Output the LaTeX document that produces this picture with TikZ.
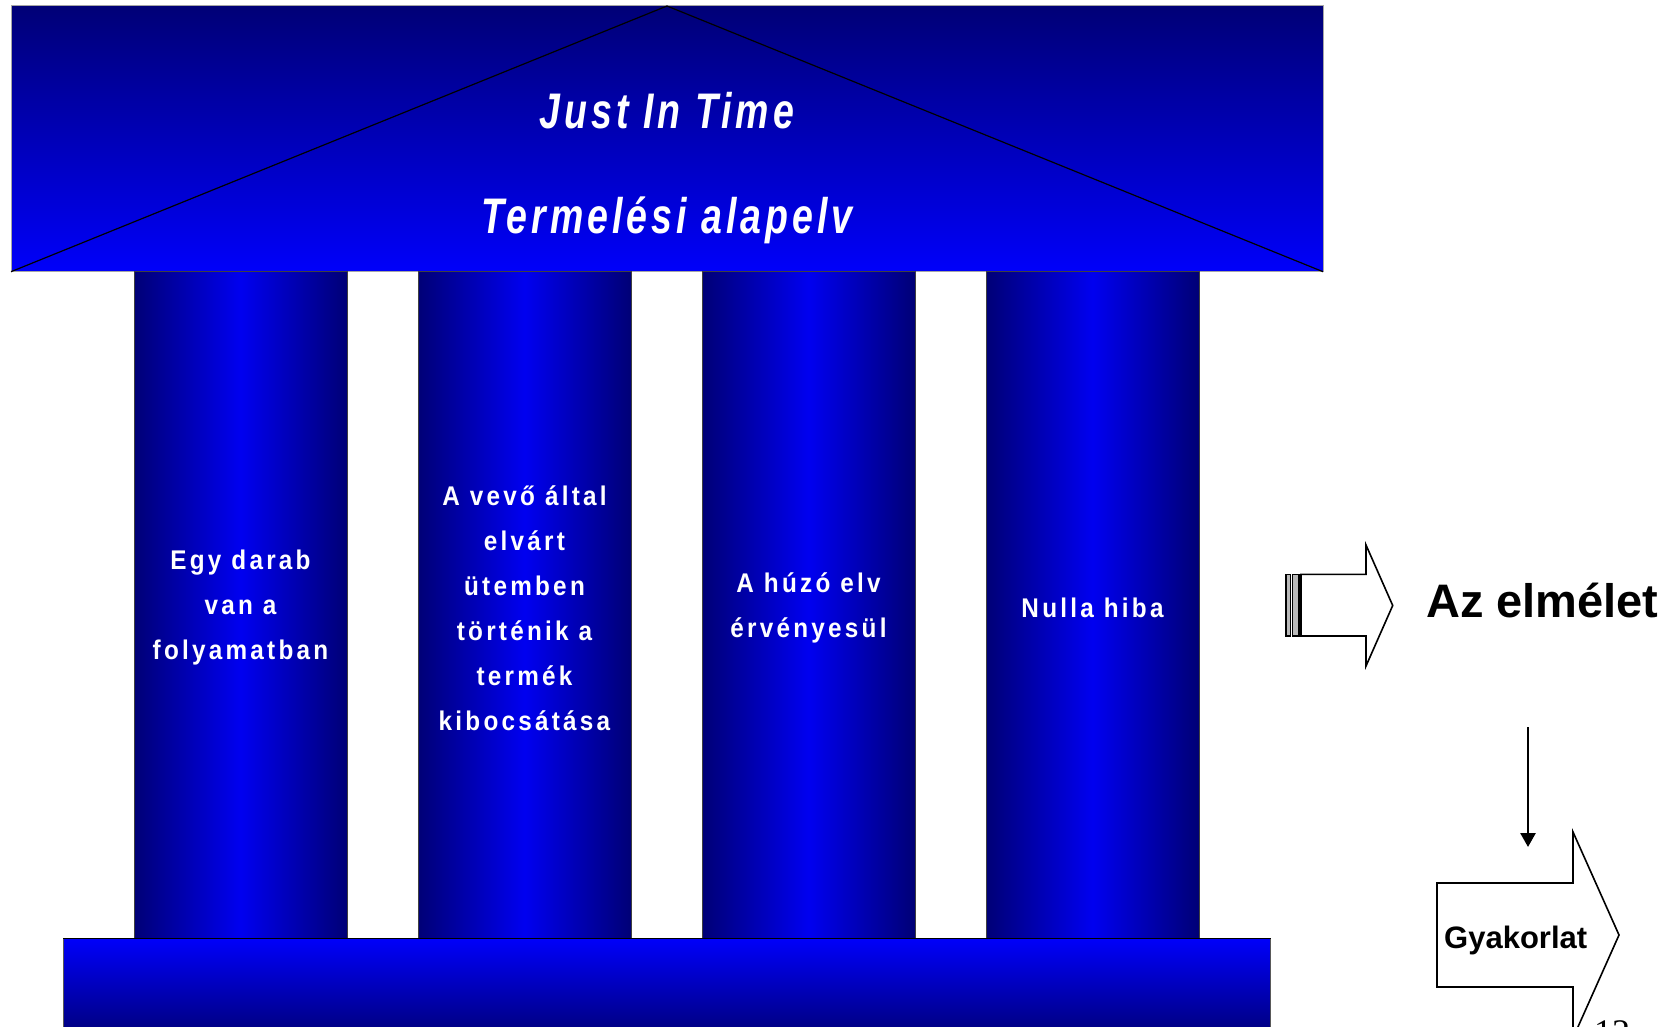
\documentclass[tikz,border=0pt]{standalone}
\usepackage{fontspec}
\setmainfont{Liberation Sans}
\newfontfamily\rooffont[FakeStretch=0.75,LetterSpace=8]{Liberation Sans}
\newfontfamily\colfont[FakeStretch=0.9,LetterSpace=12]{Liberation Sans}
\newfontfamily\pagefont{Liberation Serif}
\usetikzlibrary{arrows.meta}
\definecolor{jnavy}{RGB}{0,0,118}
\definecolor{jblue}{RGB}{0,0,250}
\definecolor{jmid}{RGB}{0,0,240}
\tikzset{
  roofshade/.style={top color=jnavy, bottom color=jblue, draw=gray!70, line width=1pt},
  baseshade/.style={top color=jblue, bottom color=jnavy, draw=gray!70!black, line width=1pt},
  pillar/.style={rectangle, minimum width=213pt, minimum height=666.6pt, inner sep=0pt,
    left color=jnavy, right color=jnavy, middle color=jmid, draw=black!75, line width=1pt},
  pillartext/.style={text=white, align=center, inner sep=0pt,
    font=\colfont\bfseries\fontsize{27}{45}\selectfont},
  rooftext/.style={text=white, inner sep=0pt, font=\rooffont\bfseries\itshape\fontsize{50}{60}\selectfont},
  outlinearrow/.style={draw=black, line width=1.6pt, fill=white, line join=miter},
  barbox/.style={draw=black, line width=1.2pt, fill=gray!55},
  sidetext/.style={inner sep=0pt, font=\bfseries\fontsize{47}{56}\selectfont},
  flowarrow/.style={line width=2.6pt, -{Triangle[width=15pt,length=14pt]}}
}
\begin{document}
\begin{tikzpicture}[x=1pt,y=-1pt]
\useasboundingbox (0,0) rectangle (1668,1026);
% roof
\path[roofshade] (11,5) rectangle (1323,271.7);
\draw[black, line width=1.2pt] (11,271.7) -- (667,6) -- (1323,271.7);
\node[rooftext] (jit) at (667,111) {Just In Time};
\node[rooftext] (elv) at (667,220) {Termelési alapelv};
% base
\path[baseshade] (63,938.3) rectangle (1270.5,1040);
% pillars
\node[pillar] (p1) at (240.5,605) {};
\node[pillar] (p2) at (524.5,605) {};
\node[pillar] (p3) at (808.5,605) {};
\node[pillar] (p4) at (1092.5,605) {};
\node[pillartext] (t1) at (240.5,608) {Egy darab\\van a\\folyamatban};
\node[pillartext] (t2) at (524.5,608) {A vevő által\\elvárt\\ütemben\\történik a\\termék\\kibocsátása};
\node[pillartext] (t3) at (808.5,608) {A húzó elv\\érvényesül};
\node[pillartext] (t4) at (1092.5,608) {Nulla hiba};
\draw[black, line width=1.4pt] (63,938.3) -- (1270.5,938.3);
% theory arrow
\path[barbox] (1286,574.3) rectangle (1290.3,636);
\path[barbox] (1292.3,574.3) rectangle (1299,636);
\path[outlinearrow] (1301,574.3) -- (1366,574.3) -- (1366,545) -- (1392.7,605.5) -- (1366,666) -- (1366,636) -- (1301,636) -- cycle;
\node[sidetext, anchor=base west] (elm) at (1426,617) {Az elmélet};
% practice arrow
\path[outlinearrow] (1437,883) -- (1573,883) -- (1573,832) -- (1619,935) -- (1573,1038) -- (1573,987) -- (1437,987) -- cycle;
\node[sidetext, anchor=base west, font=\bfseries\fontsize{31}{37}\selectfont] (gy) at (1444,948.3) {Gyakorlat};
\coordinate (elmdown) at (1528,727);
\coordinate (gytop) at (1528,847);
\draw[flowarrow] (elmdown) -- (gytop);
% page number (cut off by the page edge, as in the original)
\node[inner sep=0pt, anchor=base west, font=\pagefont\fontsize{36}{40}\selectfont] (pg) at (1594,1044) {12};
\end{tikzpicture}
\end{document}
